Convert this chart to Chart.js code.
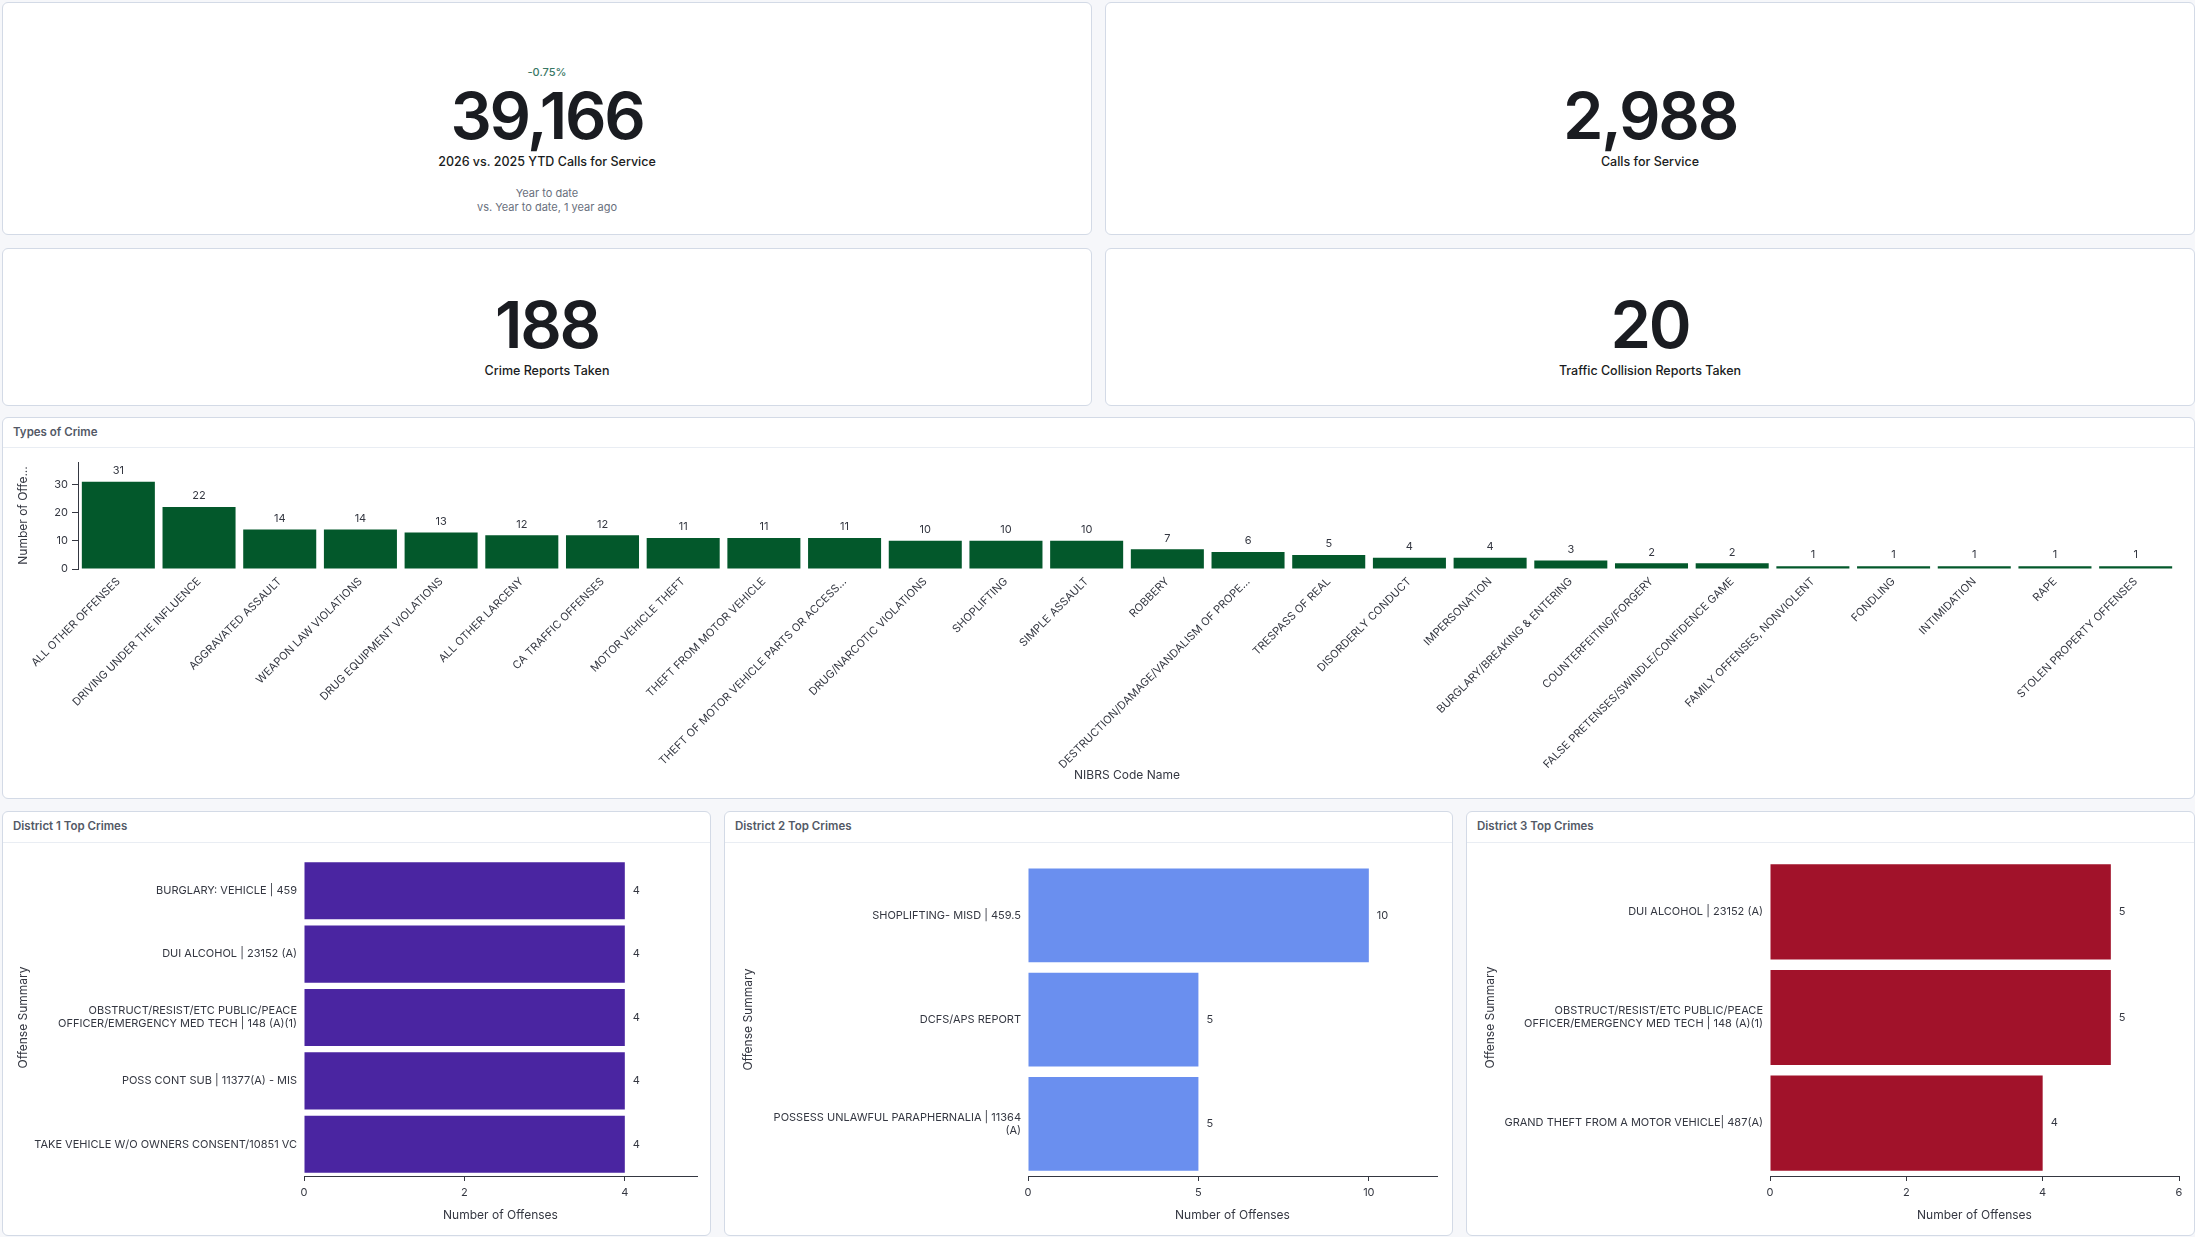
<!DOCTYPE html>
<html>
<head>
<meta charset="utf-8">
<script src="https://cdn.jsdelivr.net/npm/chart.js@4.4.1/dist/chart.umd.min.js"></script>
<style>
  html, body { margin:0; padding:0; }
  body { width:2195px; height:1237px; background:#f6f7fa; position:relative; overflow:hidden; font-family: Inter, "Noto Sans", sans-serif; }
  .panel { position:absolute; background:#fff; border:1px solid #d3dae6; border-radius:6px; box-sizing:border-box; }
  .ptitle { position:absolute; left:10px; top:6px; font-size:11.5px; font-weight:600; color:#535966; line-height:16px; }
  .psep { position:absolute; left:0; right:0; height:1px; background:#e9edf3; }
  .txt { position:absolute; transform:translate(-50%,-50%); white-space:nowrap; text-align:center; line-height:1; }
  .big { font-size:65px; font-weight:600; color:#1a1c21; letter-spacing:-0.035em; }
  .cap { font-size:12.5px; font-weight:500; color:#1a1c21; }
  .sub { font-size:11px; font-weight:400; color:#69707d; }
  .delta { font-size:11px; font-weight:500; color:#387765; }
  canvas { position:absolute; }
</style>
</head>
<body>
<div class="panel" style="left:2px;top:2px;width:1090px;height:233px;"></div>
<div class="panel" style="left:1105px;top:2px;width:1090px;height:233px;"></div>
<div class="panel" style="left:2px;top:248px;width:1090px;height:158px;"></div>
<div class="panel" style="left:1105px;top:248px;width:1090px;height:158px;"></div>

<div class="panel" style="left:2px;top:417px;width:2193px;height:382px;">
  <div class="ptitle">Types of Crime</div>
  <div class="psep" style="top:29px;"></div>
</div>
<div class="panel" style="left:2px;top:811px;width:709px;height:425px;">
  <div class="ptitle">District 1 Top Crimes</div>
  <div class="psep" style="top:30px;"></div>
</div>
<div class="panel" style="left:724px;top:811px;width:729px;height:425px;">
  <div class="ptitle">District 2 Top Crimes</div>
  <div class="psep" style="top:30px;"></div>
</div>
<div class="panel" style="left:1466px;top:811px;width:729px;height:425px;">
  <div class="ptitle">District 3 Top Crimes</div>
  <div class="psep" style="top:30px;"></div>
</div>

<div id="kpis"></div>

<canvas id="types" width="2178" height="339" style="left:12px;top:448px;"></canvas>
<canvas id="d1" width="698" height="384" style="left:12px;top:843px;"></canvas>
<canvas id="d2" width="715" height="384" style="left:737px;top:843px;"></canvas>
<canvas id="d3" width="715" height="384" style="left:1479px;top:843px;"></canvas>

<script>
// ---------- DATA ----------
const kpiValues = ["39,166", "2,988", "188", "20"];
const kpiCaptions = ["2026 vs. 2025 YTD Calls for Service", "Calls for Service", "Crime Reports Taken", "Traffic Collision Reports Taken"];
const kpiDelta = "-0.75%";
const kpiCompare = ["Year to date", "vs. Year to date, 1 year ago"];

const crimeTypes = [
  "ALL OTHER OFFENSES", "DRIVING UNDER THE INFLUENCE", "AGGRAVATED ASSAULT", "WEAPON LAW VIOLATIONS",
  "DRUG EQUIPMENT VIOLATIONS", "ALL OTHER LARCENY", "CA TRAFFIC OFFENSES", "MOTOR VEHICLE THEFT",
  "THEFT FROM MOTOR VEHICLE", "THEFT OF MOTOR VEHICLE PARTS OR ACCESS...", "DRUG/NARCOTIC VIOLATIONS",
  "SHOPLIFTING", "SIMPLE ASSAULT", "ROBBERY", "DESTRUCTION/DAMAGE/VANDALISM OF PROPE...", "TRESPASS OF REAL",
  "DISORDERLY CONDUCT", "IMPERSONATION", "BURGLARY/BREAKING & ENTERING", "COUNTERFEITING/FORGERY",
  "FALSE PRETENSES/SWINDLE/CONFIDENCE GAME", "FAMILY OFFENSES, NONVIOLENT", "FONDLING", "INTIMIDATION",
  "RAPE", "STOLEN PROPERTY OFFENSES"
];
const crimeCounts = [31, 22, 14, 14, 13, 12, 12, 11, 11, 11, 10, 10, 10, 7, 6, 5, 4, 4, 3, 2, 2, 1, 1, 1, 1, 1];
const crimeTicks = [0, 10, 20, 30];

const d1Labels = [
  "BURGLARY: VEHICLE | 459",
  "DUI ALCOHOL | 23152 (A)",
  ["OBSTRUCT/RESIST/ETC PUBLIC/PEACE", "OFFICER/EMERGENCY MED TECH | 148 (A)(1)"],
  "POSS CONT SUB | 11377(A) - MIS",
  "TAKE VEHICLE W/O OWNERS CONSENT/10851 VC"
];
const d1Values = [4, 4, 4, 4, 4];

const d2Labels = [
  "SHOPLIFTING- MISD | 459.5",
  "DCFS/APS REPORT",
  ["POSSESS UNLAWFUL PARAPHERNALIA | 11364", "(A)"]
];
const d2Values = [10, 5, 5];

const d3Labels = [
  "DUI ALCOHOL | 23152 (A)",
  ["OBSTRUCT/RESIST/ETC PUBLIC/PEACE", "OFFICER/EMERGENCY MED TECH | 148 (A)(1)"],
  "GRAND THEFT FROM A MOTOR VEHICLE| 487(A)"
];
const d3Values = [5, 5, 4];

// ---------- KPI TEXT ----------
const kpiBox = document.getElementById('kpis');
function addText(cls, text, x, y) {
  const d = document.createElement('div');
  d.className = 'txt ' + cls;
  d.textContent = text;
  d.style.left = x + 'px';
  d.style.top = y + 'px';
  kpiBox.appendChild(d);
}
const kpiPos = [[547, 115, 162], [1650, 115, 162], [547, 324, 371], [1650, 324, 371]];
kpiValues.forEach((v, i) => {
  addText('big', v, kpiPos[i][0], kpiPos[i][1]);
  addText('cap', kpiCaptions[i], kpiPos[i][0], kpiPos[i][2]);
});
addText('delta', kpiDelta, 547, 72);
addText('sub', kpiCompare[0], 547, 193);
addText('sub', kpiCompare[1], 547, 207);

// ---------- CHARTS ----------
Chart.defaults.font.family = 'Inter, "Noto Sans", sans-serif';
Chart.defaults.color = '#343741';
Chart.defaults.animation = false;

const axisColor = '#343741';

const valueLabels = {
  id: 'valueLabels',
  afterDatasetsDraw(chart, args, opts) {
    const ctx = chart.ctx;
    const meta = chart.getDatasetMeta(0);
    const data = chart.data.datasets[0].data;
    ctx.save();
    ctx.font = '11px Inter, "Noto Sans", sans-serif';
    ctx.fillStyle = '#343741';
    meta.data.forEach((el, i) => {
      if (chart.options.indexAxis === 'y') {
        ctx.textAlign = 'left';
        ctx.textBaseline = 'middle';
        ctx.fillText(String(data[i]), el.x + 8, el.y);
      } else {
        ctx.textAlign = 'center';
        ctx.textBaseline = 'middle';
        ctx.fillText(String(data[i]), el.x, el.y - 11);
      }
    });
    ctx.restore();
  }
};

new Chart(document.getElementById('types'), {
  type: 'bar',
  data: {
    labels: crimeTypes,
    datasets: [{ data: crimeCounts, backgroundColor: '#03582b', barPercentage: 0.905, categoryPercentage: 1.0 }]
  },
  options: {
    responsive: false,
    devicePixelRatio: 1,
    layout: { padding: { top: 14, right: 14, left: 0, bottom: 0 } },
    plugins: { legend: { display: false }, tooltip: { enabled: false } },
    scales: {
      x: {
        grid: { display: false, drawTicks: false },
        border: { display: false },
        ticks: { autoSkip: false, minRotation: 45, maxRotation: 45, padding: 6, font: { size: 11 }, color: axisColor },
        title: { display: true, text: 'NIBRS Code Name', font: { size: 12 }, color: axisColor },
        afterFit(s) { s.height = 218; }
      },
      y: {
        min: 0, max: 38,
        afterBuildTicks(s) { s.ticks = crimeTicks.map(v => ({ value: v })); },
        grid: { drawOnChartArea: false, drawTicks: true, tickLength: 6, color: axisColor },
        border: { display: true, color: axisColor },
        ticks: { padding: 4, font: { size: 11 }, color: axisColor },
        title: { display: true, text: 'Number of Offe...', font: { size: 12 }, color: axisColor },
        afterFit(s) { s.width = 66; }
      }
    }
  },
  plugins: [valueLabels]
});

function hbar(id, labels, values, color, xmax, step, yWidth, padTop, padRight) {
  new Chart(document.getElementById(id), {
    type: 'bar',
    data: {
      labels: labels,
      datasets: [{ data: values, backgroundColor: color, barPercentage: 0.9, categoryPercentage: 1.0 }]
    },
    options: {
      indexAxis: 'y',
      responsive: false,
      devicePixelRatio: 1,
      layout: { padding: { top: padTop, right: padRight, left: 0, bottom: 0 } },
      plugins: { legend: { display: false }, tooltip: { enabled: false } },
      scales: {
        x: {
          min: 0, max: xmax,
          ticks: { stepSize: step, includeBounds: false, padding: 5, font: { size: 11 }, color: axisColor },
          grid: { drawOnChartArea: false, drawTicks: true, tickLength: 5, color: axisColor },
          border: { display: true, color: axisColor },
          title: { display: true, text: 'Number of Offenses', font: { size: 12 }, color: axisColor },
          afterFit(s) { s.height = 51; }
        },
        y: {
          grid: { display: false, drawTicks: false },
          border: { display: false },
          ticks: { padding: 7, font: { size: 11 }, color: axisColor, autoSkip: false },
          title: { display: true, text: 'Offense Summary', font: { size: 12 }, color: axisColor },
          afterFit(s) { s.width = yWidth; }
        }
      }
    },
    plugins: [valueLabels]
  });
}

hbar('d1', d1Labels, d1Values, '#4a25a1', 4.9, 2, 292, 16, 13);
hbar('d2', d2Labels, d2Values, '#6a8fef', 12, 5, 291, 16, 15);
hbar('d3', d3Labels, d3Values, '#a1122a', 6, 2, 291, 16, 15);
</script>
</body>
</html>
